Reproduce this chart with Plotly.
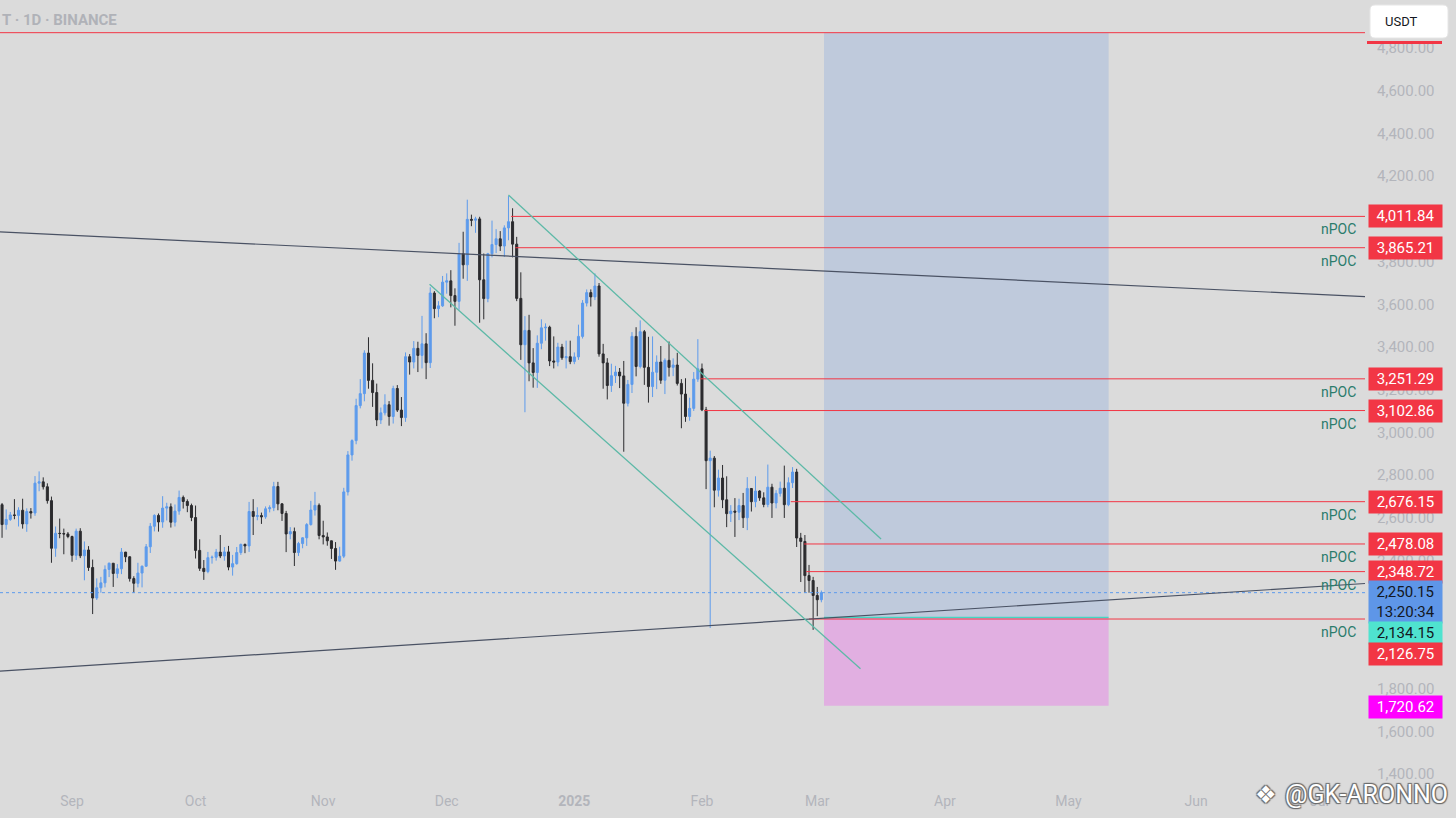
import pandas as pd
import plotly.graph_objects as go

# ---------------- data (ETH/USDT 1D) ----------------
dates = pd.date_range("2024-08-15", "2025-03-02", freq="D")

opens = [
    # Aug 15-31
    2662, 2569, 2593, 2614, 2612, 2636, 2572, 2630, 2623, 2763, 2769, 2746, 2681, 2458, 2528, 2527, 2525,
    # Sep
    2513, 2425, 2538, 2423, 2450, 2368, 2225, 2273, 2296, 2359, 2388, 2340, 2362, 2440, 2418, 2316, 2294, 2342, 2374, 2465,
    2561, 2612, 2581, 2646, 2652, 2580, 2632, 2696, 2677, 2658,
    # Oct
    2602, 2448, 2364, 2349, 2414, 2416, 2440, 2422, 2441, 2370, 2386, 2438, 2476, 2469, 2630, 2607, 2611, 2605, 2643, 2648,
    2747, 2666, 2621, 2525, 2536, 2438, 2480, 2507, 2569, 2637, 2659,
    # Nov
    2518, 2511, 2493, 2457, 2398, 2421, 2722, 2895, 2962, 3126, 3182, 3372, 3244, 3187, 3059, 3092, 3130, 3075, 3206, 3105,
    3070, 3355, 3330, 3394, 3361, 3415, 3327, 3653, 3580, 3593,
    # Dec
    3704, 3710, 3641, 3614, 3837, 3785, 3998, 3994, 4000, 3715, 3627, 3837, 3880, 3907, 3873, 3958, 3987, 3882, 3628, 3411,
    3478, 3326, 3281, 3418, 3490, 3493, 3335, 3330, 3400, 3350, 3355,
    # Jan
    3332, 3354, 3450, 3606, 3655, 3635, 3686, 3368, 3326, 3220, 3266, 3283, 3265, 3137, 3225, 3450, 3309, 3472, 3305, 3215,
    3282, 3330, 3245, 3338, 3305, 3316, 3230, 3180, 3075, 3113, 3250,
    # Feb
    3298, 3106, 2868, 2880, 2730, 2787, 2685, 2620, 2632, 2627, 2658, 2601, 2738, 2676, 2726, 2694, 2663, 2744, 2670, 2715,
    2739, 2662, 2765, 2815, 2506, 2490, 2330, 2307,
    # Mar
    2237, 2217,
]
highs = [
    2670, 2640, 2628, 2688, 2650, 2690, 2645, 2646, 2796, 2818, 2790, 2762, 2700, 2560, 2597, 2550, 2534,
    2517, 2550, 2552, 2490, 2468, 2405, 2317, 2324, 2378, 2391, 2388, 2384, 2459, 2441, 2421, 2327, 2390, 2377, 2478, 2576,
    2617, 2621, 2702, 2671, 2668, 2663, 2728, 2705, 2687, 2667,
    2658, 2500, 2403, 2441, 2424, 2455, 2520, 2464, 2469, 2427, 2464, 2480, 2480, 2675, 2688, 2650, 2625, 2654, 2659, 2769,
    2769, 2669, 2633, 2557, 2555, 2488, 2510, 2576, 2680, 2722, 2668,
    2587, 2532, 2494, 2487, 2465, 2741, 2913, 2968, 3158, 3250, 3385, 3446, 3324, 3229, 3117, 3179, 3147, 3219, 3222, 3166,
    3375, 3367, 3428, 3425, 3546, 3465, 3680, 3662, 3615, 3733,
    3745, 3760, 3675, 3888, 3940, 4090, 4020, 4010, 4010, 3838, 3841, 3992, 3952, 3943, 3970, 4107, 4050, 3916, 3750, 3545,
    3551, 3395, 3455, 3530, 3511, 3500, 3450, 3420, 3415, 3430, 3430,
    3375, 3505, 3620, 3670, 3670, 3745, 3700, 3415, 3348, 3322, 3312, 3302, 3335, 3246, 3470, 3493, 3525, 3480, 3448, 3450,
    3361, 3405, 3347, 3426, 3347, 3373, 3250, 3254, 3163, 3283, 3437,
    3323, 3120, 2915, 2890, 2826, 2848, 2795, 2660, 2693, 2690, 2717, 2791, 2740, 2795, 2730, 2720, 2850, 2760, 2730, 2770,
    2845, 2790, 2838, 2830, 2530, 2520, 2380, 2324,
    2277, 2260,
]
lows = [
    2507, 2545, 2586, 2594, 2560, 2550, 2535, 2597, 2610, 2725, 2733, 2667, 2390, 2418, 2505, 2430, 2505,
    2395, 2403, 2412, 2308, 2352, 2150, 2216, 2250, 2275, 2323, 2277, 2318, 2337, 2393, 2302, 2250, 2275, 2275, 2371, 2436,
    2537, 2536, 2554, 2588, 2555, 2560, 2615, 2644, 2627, 2585,
    2410, 2352, 2310, 2341, 2386, 2400, 2412, 2400, 2355, 2330, 2381, 2427, 2435, 2441, 2520, 2589, 2572, 2596, 2626, 2632,
    2636, 2586, 2440, 2500, 2375, 2422, 2458, 2469, 2564, 2611, 2500,
    2476, 2470, 2408, 2357, 2395, 2412, 2705, 2868, 2945, 3113, 3146, 3205, 3120, 3030, 3040, 3080, 3032, 3042, 3096, 3030,
    3050, 3271, 3300, 3283, 3300, 3250, 3302, 3535, 3540, 3588,
    3650, 3586, 3500, 3575, 3720, 3710, 3966, 3935, 3514, 3530, 3610, 3820, 3840, 3850, 3822, 3900, 3820, 3615, 3340, 3095,
    3240, 3210, 3209, 3390, 3430, 3311, 3300, 3310, 3340, 3300, 3320,
    3320, 3340, 3440, 3590, 3590, 3620, 3355, 3205, 3155, 3190, 3232, 3208, 2910, 3122, 3185, 3263, 3300, 3223, 3140, 3166,
    3203, 3228, 3180, 3262, 3264, 3220, 3020, 3050, 3055, 3101, 3237,
    3100, 2735, 2085, 2650, 2700, 2646, 2557, 2581, 2511, 2590, 2553, 2543, 2630, 2650, 2680, 2650, 2650, 2600, 2645, 2700,
    2600, 2655, 2740, 2464, 2300, 2250, 2250, 2076,
    2140, 2205,
]
closes = [
    2569, 2593, 2614, 2612, 2636, 2572, 2630, 2623, 2763, 2769, 2746, 2681, 2458, 2528, 2527, 2525, 2513,
    2425, 2538, 2423, 2450, 2368, 2225, 2273, 2296, 2359, 2388, 2340, 2362, 2440, 2418, 2316, 2294, 2342, 2374, 2465, 2561,
    2612, 2581, 2646, 2652, 2580, 2632, 2696, 2677, 2658, 2602,
    2448, 2364, 2349, 2414, 2416, 2440, 2422, 2441, 2370, 2386, 2438, 2476, 2469, 2630, 2607, 2611, 2605, 2643, 2648, 2747,
    2666, 2621, 2525, 2536, 2438, 2480, 2507, 2569, 2637, 2659, 2518,
    2511, 2493, 2457, 2398, 2421, 2722, 2895, 2962, 3126, 3182, 3372, 3244, 3187, 3059, 3092, 3130, 3075, 3206, 3105, 3070,
    3355, 3330, 3394, 3361, 3415, 3327, 3653, 3580, 3593, 3704,
    3710, 3641, 3614, 3837, 3785, 3998, 3994, 4000, 3715, 3627, 3837, 3880, 3907, 3873, 3958, 3987, 3882, 3628, 3411, 3478,
    3326, 3281, 3418, 3490, 3493, 3335, 3330, 3400, 3350, 3355, 3332,
    3354, 3450, 3606, 3655, 3635, 3686, 3368, 3326, 3220, 3266, 3283, 3265, 3137, 3225, 3450, 3309, 3472, 3305, 3215, 3282,
    3330, 3245, 3338, 3305, 3316, 3230, 3180, 3075, 3113, 3250, 3298,
    3106, 2868, 2880, 2730, 2787, 2685, 2620, 2632, 2627, 2658, 2601, 2738, 2676, 2726, 2694, 2663, 2744, 2670, 2715, 2739,
    2662, 2765, 2815, 2506, 2490, 2330, 2307, 2237,
    2217, 2250.15,
]

month_ticks = ["2024-09-01", "2024-10-01", "2024-11-01", "2024-12-01", "2025-01-01", "2025-02-01",
               "2025-03-01", "2025-04-01", "2025-05-01", "2025-06-01", "2025-07-01"]
month_labels = ["Sep", "Oct", "Nov", "Dec", "<b>2025</b>", "Feb", "Mar", "Apr", "May", "Jun", "Jul"]
price_ticks = list(range(1400, 4801, 200))
price_labels = [f"{v:,.2f}" for v in price_ticks]

# naked POC levels and the bar where each one starts
poc_levels = [4011.84, 3865.21, 3251.29, 3102.86, 2676.15, 2478.08, 2348.72, 2126.75]
poc_starts = ["2024-12-16 15:00", "2024-12-17 16:00", "2025-01-31 14:00", "2025-02-01 13:00",
              "2025-02-22 14:00", "2025-02-25 19:00", "2025-02-26 08:00", "2025-02-27 00:00"]

top_level = 4872
entry_price = 2134.15
stop_price = 1720.62
last_price = 2250.15
countdown = "13:20:34"
position_start = "2025-03-02 15:20"
position_end = "2025-05-10 18:30"

channel_upper_x = ["2024-12-16 00:00", "2025-03-16 12:00"]
channel_upper_y = [4112, 2501]
channel_lower_x = ["2024-11-26 20:00", "2025-03-11 12:00"]
channel_lower_y = [3694, 1894]

x_start, x_end = "2024-08-14 12:00", "2025-07-12 01:00"
trend_upper_y = [3939, 3636]
trend_lower_y = [1883, 2293]

# ---------------- styling ----------------
BG = "#dbdbdb"
UP = "#5d9bec"
DOWN = "#2b2b2e"
RED = "#f23645"
TEAL = "#5db9a7"
SLATE = "#4a5264"
AXIS_TXT = "#b3b5bb"
FONT = "Roboto"

W, H = 1456, 818
ML, MR, MT, MB = 0, 91, 0, 35
PW, PH = W - ML - MR, H - MT - MB


def px_x(p):
    return p / PW


def px_y(p):
    return 1 - p / PH


fig = go.Figure()
fig.add_trace(go.Candlestick(
    x=dates, open=opens, high=highs, low=lows, close=closes,
    increasing=dict(line=dict(color=UP, width=1), fillcolor=UP),
    decreasing=dict(line=dict(color=DOWN, width=1), fillcolor=DOWN),
    hoverinfo="skip", showlegend=False,
))

shapes = []
# long position box
shapes.append(dict(type="rect", xref="x", yref="y", x0=position_start, x1=position_end,
                   y0=entry_price, y1=top_level, fillcolor="#bfcadc", line=dict(width=0), layer="below"))
shapes.append(dict(type="rect", xref="x", yref="y", x0=position_start, x1=position_end,
                   y0=stop_price, y1=entry_price, fillcolor="#e1afe1", line=dict(width=0), layer="below"))
shapes.append(dict(type="line", xref="x", yref="y", x0=position_start, x1=position_end,
                   y0=entry_price, y1=entry_price, line=dict(color="#45d6c2", width=1.5)))
# top target line
shapes.append(dict(type="line", xref="paper", yref="y", x0=0, x1=1, y0=top_level, y1=top_level,
                   line=dict(color=RED, width=1)))
# nPOC lines
for lvl, st in zip(poc_levels, poc_starts):
    shapes.append(dict(type="line", xref="x", yref="y", x0=st, x1=x_end, y0=lvl, y1=lvl,
                       line=dict(color=RED, width=1)))
# current price dotted line
shapes.append(dict(type="line", xref="paper", yref="y", x0=0, x1=1, y0=last_price, y1=last_price,
                   line=dict(color=UP, width=1, dash="dot")))
# long trend lines
shapes.append(dict(type="line", xref="x", yref="y", x0=x_start, x1=x_end,
                   y0=trend_upper_y[0], y1=trend_upper_y[1], line=dict(color=SLATE, width=1.2)))
shapes.append(dict(type="line", xref="x", yref="y", x0=x_start, x1=x_end,
                   y0=trend_lower_y[0], y1=trend_lower_y[1], line=dict(color=SLATE, width=1.2)))
# descending channel
shapes.append(dict(type="line", xref="x", yref="y", x0=channel_upper_x[0], x1=channel_upper_x[1],
                   y0=channel_upper_y[0], y1=channel_upper_y[1], line=dict(color=TEAL, width=1.3)))
shapes.append(dict(type="line", xref="x", yref="y", x0=channel_lower_x[0], x1=channel_lower_x[1],
                   y0=channel_lower_y[0], y1=channel_lower_y[1], line=dict(color=TEAL, width=1.3)))
# edge of the red label hidden under the USDT box
shapes.append(dict(type="rect", xref="paper", yref="paper", x0=px_x(1367), x1=px_x(1442),
                   y0=px_y(44), y1=px_y(41), fillcolor=RED, line=dict(width=0)))
# USDT box (rounded)
x0, x1, y0, y1 = 1370, 1448, 5, 38
r = 5
path = (f"M {px_x(x0 + r)} {px_y(y0)} L {px_x(x1 - r)} {px_y(y0)} "
        f"Q {px_x(x1)} {px_y(y0)} {px_x(x1)} {px_y(y0 + r)} L {px_x(x1)} {px_y(y1 - r)} "
        f"Q {px_x(x1)} {px_y(y1)} {px_x(x1 - r)} {px_y(y1)} L {px_x(x0 + r)} {px_y(y1)} "
        f"Q {px_x(x0)} {px_y(y1)} {px_x(x0)} {px_y(y1 - r)} L {px_x(x0)} {px_y(y0 + r)} "
        f"Q {px_x(x0)} {px_y(y0)} {px_x(x0 + r)} {px_y(y0)} Z")
shapes.append(dict(type="path", xref="paper", yref="paper", path=path, fillcolor="#ffffff",
                   line=dict(color="#e6e6e6", width=1)))

annotations = []
# title (cut at left edge)
annotations.append(dict(xref="paper", yref="paper", x=0, y=px_y(20), xanchor="left", yanchor="middle",
                        text="<b>T · 1D · BINANCE</b>", showarrow=False,
                        font=dict(family=FONT, size=15, color="#b0b2b8")))
annotations.append(dict(xref="paper", yref="paper", x=px_x(1383), y=px_y(21), xanchor="left", yanchor="middle",
                        text="USDT", showarrow=False, font=dict(family=FONT, size=13, color="#131722")))


def axis_label(price, text, bg, fg, yshift=0):
    annotations.append(dict(xref="paper", yref="y", x=1, xshift=3, y=price, yshift=yshift,
                            xanchor="left", yanchor="middle", text=text, showarrow=False,
                            bgcolor=bg, borderpad=2, width=69, align="center",
                            font=dict(family=FONT, size=15, color=fg)))


for lvl in poc_levels:
    annotations.append(dict(xref="paper", yref="y", x=px_x(1358), y=lvl, yshift=-3,
                            xanchor="right", yanchor="top", text="nPOC", showarrow=False,
                            font=dict(family=FONT, size=14, color="#2b7c6c")))

for lvl in poc_levels[:-1]:
    axis_label(lvl, f"{lvl:,.2f}", RED, "#ffffff")
axis_label(last_price, f"{last_price:,.2f}<br>{countdown}", "#5e96e8", "#131722", yshift=-9)
axis_label(entry_price, f"{entry_price:,.2f}", "#4fe3cf", "#131722", yshift=-16)
axis_label(poc_levels[-1], f"{poc_levels[-1]:,.2f}", RED, "#ffffff", yshift=-35)
axis_label(stop_price, f"{stop_price:,.2f}", "#ff00ff", "#ffffff", yshift=-1)

# watermark
shadow = "1px 1px 1px #6b6b6b, -1px -1px 1px #6b6b6b, 1px -1px 1px #6b6b6b, -1px 1px 1px #6b6b6b"
annotations.append(dict(xref="paper", yref="paper", x=px_x(1266), y=px_y(795), xanchor="center", yanchor="middle",
                        text="❖", showarrow=False,
                        font=dict(family="DejaVu Sans", size=24, color="#ffffff", shadow=shadow)))
annotations.append(dict(xref="paper", yref="paper", x=px_x(1450), y=px_y(795), xanchor="right", yanchor="middle",
                        text="@GK-ARONNO", showarrow=False,
                        font=dict(family=FONT, size=25, color="#ffffff", shadow=shadow)))

fig.update_layout(
    width=W, height=H,
    margin=dict(l=ML, r=MR, t=MT, b=MB),
    paper_bgcolor=BG, plot_bgcolor=BG,
    shapes=shapes, annotations=annotations,
    showlegend=False,
    hovermode=False,
    xaxis=dict(type="date", range=[x_start, x_end], rangeslider=dict(visible=False),
               showgrid=False, zeroline=False, showline=False, ticks="",
               tickvals=month_ticks, ticktext=month_labels, ticklabelstandoff=8,
               tickfont=dict(family=FONT, size=14, color=AXIS_TXT), fixedrange=True),
    yaxis=dict(side="right", range=[1359, 5025], showgrid=False, zeroline=False, showline=False,
               ticks="", tickvals=price_ticks, ticktext=price_labels, ticklabelstandoff=11,
               tickfont=dict(family=FONT, size=15, color=AXIS_TXT), fixedrange=True),
)

fig.write_html(
    "out.html",
    config={"displayModeBar": False, "staticPlot": True},
    post_script="document.body.style.margin='0';document.body.style.overflow='hidden';"
                "document.body.style.background='" + BG + "';",
)
